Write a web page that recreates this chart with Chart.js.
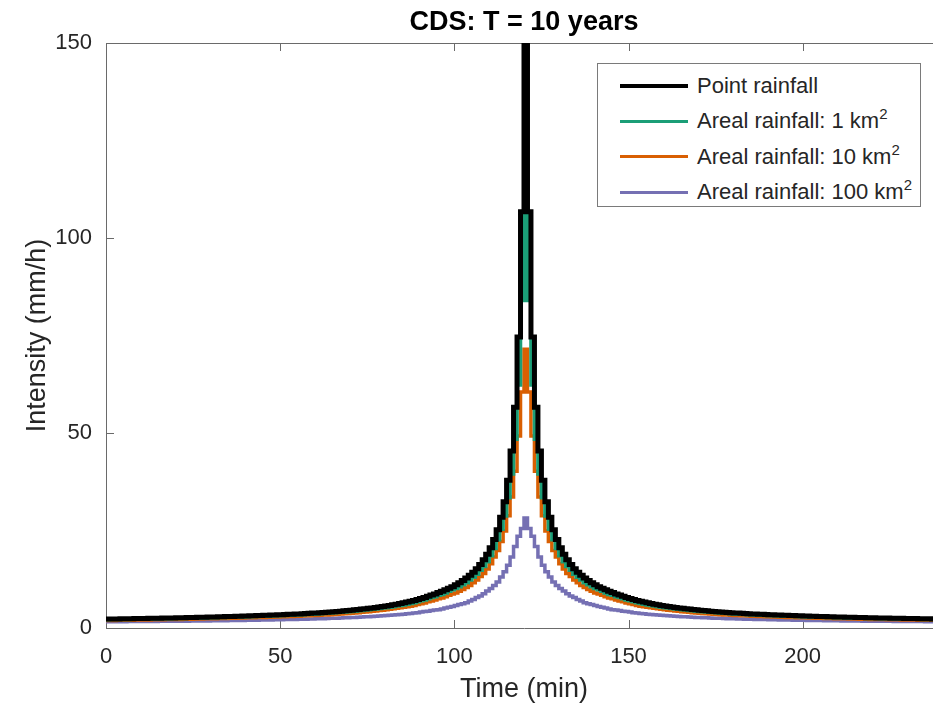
<!DOCTYPE html>
<html>
<head>
<meta charset="utf-8">
<script src="https://cdn.jsdelivr.net/npm/chart.js@4.4.1/dist/chart.umd.min.js"></script>
<style>
  body { margin: 0; background: #fff; overflow: hidden; }
  #wrap { position: relative; width: 950px; height: 707px; }
  #legend {
    position: absolute; left: 597px; top: 63px; width: 324px; height: 144px;
    border: 1px solid #7a7a7a; background: #fff;
    font-family: "Liberation Sans", Arial, sans-serif; font-size: 22px; color: #262626;
    padding-top: 4px; box-sizing: border-box;
  }
  .row { height: 35.5px; display: flex; align-items: center; }
  .swatch { width: 68px; margin-left: 22px; margin-right: 9px; }
  sup { font-size: 15px; vertical-align: 9px; line-height: 0; }
</style>
</head>
<body>
<div id="wrap">
  <canvas id="myChart"></canvas>
  <div id="legend"></div>
</div>
<script>
// step edges in minutes (1-min steps, 0..240)
const minutes = Array.from({ length: 241 }, (_, i) => i);

const seriesNames = ['Point rainfall', 'Areal rainfall: 1 km^2', 'Areal rainfall: 10 km^2', 'Areal rainfall: 100 km^2'];
const seriesColors = ['#000000', '#1b9e77', '#d95f02', '#7570b3'];
const seriesWidths = [5, 3.5, 3.5, 3.5];

const xTicks = [0, 50, 100, 150, 200];
const yTicks = [0, 50, 100, 150];

// intensity (mm/h) of each 1-min step
const pointRain = [
  2.29, 2.31, 2.32, 2.33, 2.35, 2.36, 2.38, 2.39, 2.41, 2.42,
  2.44, 2.45, 2.47, 2.49, 2.5, 2.52, 2.54, 2.56, 2.57, 2.59,
  2.61, 2.63, 2.65, 2.67, 2.69, 2.71, 2.73, 2.76, 2.78, 2.8,
  2.82, 2.85, 2.87, 2.9, 2.92, 2.95, 2.97, 3.0, 3.03, 3.06,
  3.09, 3.12, 3.15, 3.18, 3.21, 3.24, 3.27, 3.31, 3.34, 3.38,
  3.42, 3.46, 3.5, 3.54, 3.58, 3.62, 3.67, 3.72, 3.77, 3.82,
  3.87, 3.93, 3.99, 4.05, 4.11, 4.18, 4.25, 4.32, 4.4, 4.48,
  4.56, 4.65, 4.74, 4.84, 4.94, 5.04, 5.15, 5.27, 5.39, 5.52,
  5.65, 5.8, 5.96, 6.12, 6.28, 6.45, 6.65, 6.85, 7.05, 7.3,
  7.55, 7.85, 8.15, 8.45, 8.75, 9.1, 9.4, 9.8, 10.2, 10.6,
  11.1, 11.6, 12.2, 12.8, 13.5, 14.3, 15.2, 16.3, 17.5, 18.9,
  20.6, 22.7, 25.2, 28.4, 32.4, 37.9, 45.4, 56.6, 74.6, 106.7,
  158,
  106.7, 74.6, 56.6, 45.4, 37.9, 32.4, 28.4, 25.2, 22.7, 20.6,
  18.9, 17.5, 16.3, 15.2, 14.3, 13.5, 12.8, 12.2, 11.6, 11.1,
  10.6, 10.2, 9.8, 9.4, 9.1, 8.75, 8.45, 8.15, 7.85, 7.55,
  7.3, 7.05, 6.85, 6.65, 6.45, 6.28, 6.12, 5.96, 5.8, 5.65,
  5.52, 5.39, 5.27, 5.15, 5.04, 4.94, 4.84, 4.74, 4.65, 4.56,
  4.48, 4.4, 4.32, 4.25, 4.18, 4.11, 4.05, 3.99, 3.93, 3.87,
  3.82, 3.77, 3.72, 3.67, 3.62, 3.58, 3.54, 3.5, 3.46, 3.42,
  3.38, 3.34, 3.31, 3.27, 3.24, 3.21, 3.18, 3.15, 3.12, 3.09,
  3.06, 3.03, 3.0, 2.97, 2.95, 2.92, 2.9, 2.87, 2.85, 2.82,
  2.8, 2.78, 2.76, 2.73, 2.71, 2.69, 2.67, 2.65, 2.63, 2.61,
  2.59, 2.57, 2.56, 2.54, 2.52, 2.5, 2.49, 2.47, 2.45, 2.44,
  2.42, 2.41, 2.39, 2.38, 2.36, 2.35, 2.33, 2.32, 2.31
];

const areal1 = [
  2.13, 2.15, 2.16, 2.17, 2.19, 2.19, 2.21, 2.22, 2.24, 2.25,
  2.27, 2.28, 2.3, 2.32, 2.33, 2.34, 2.36, 2.38, 2.39, 2.41,
  2.43, 2.45, 2.46, 2.48, 2.5, 2.52, 2.54, 2.57, 2.59, 2.6,
  2.62, 2.65, 2.67, 2.7, 2.72, 2.74, 2.76, 2.79, 2.82, 2.85,
  2.87, 2.9, 2.93, 2.96, 2.99, 3.01, 3.04, 3.08, 3.11, 3.14,
  3.18, 3.22, 3.26, 3.29, 3.33, 3.37, 3.41, 3.46, 3.51, 3.55,
  3.6, 3.65, 3.71, 3.77, 3.82, 3.89, 3.95, 4.02, 4.09, 4.17,
  4.24, 4.32, 4.41, 4.5, 4.59, 4.69, 4.79, 4.9, 5.01, 5.13,
  5.2, 5.34, 5.48, 5.63, 5.78, 5.9, 6.1, 6.3, 6.5, 6.7,
  7.0, 7.2, 7.5, 7.8, 8.0, 8.4, 8.6, 9.0, 9.4, 9.8,
  10.1, 10.6, 11.1, 11.6, 12.3, 13.0, 13.8, 14.8, 15.8, 17.0,
  18.5, 20.4, 22.6, 25.3, 28.7, 33.4, 39.5, 48.4, 62.3, 84.0,
  118.5,
  84.0, 62.3, 48.4, 39.5, 33.4, 28.7, 25.3, 22.6, 20.4, 18.5,
  17.0, 15.8, 14.8, 13.8, 13.0, 12.3, 11.6, 11.1, 10.6, 10.1,
  9.8, 9.4, 9.0, 8.6, 8.4, 8.0, 7.8, 7.5, 7.2, 7.0,
  6.7, 6.5, 6.3, 6.1, 5.9, 5.78, 5.63, 5.48, 5.34, 5.2,
  5.13, 5.01, 4.9, 4.79, 4.69, 4.59, 4.5, 4.41, 4.32, 4.24,
  4.17, 4.09, 4.02, 3.95, 3.89, 3.82, 3.77, 3.71, 3.65, 3.6,
  3.55, 3.51, 3.46, 3.41, 3.37, 3.33, 3.29, 3.26, 3.22, 3.18,
  3.14, 3.11, 3.08, 3.04, 3.01, 2.99, 2.96, 2.93, 2.9, 2.87,
  2.85, 2.82, 2.79, 2.76, 2.74, 2.72, 2.7, 2.67, 2.65, 2.62,
  2.6, 2.59, 2.57, 2.54, 2.52, 2.5, 2.48, 2.46, 2.45, 2.43,
  2.41, 2.39, 2.38, 2.36, 2.34, 2.33, 2.32, 2.3, 2.28, 2.27,
  2.25, 2.24, 2.22, 2.21, 2.19, 2.19, 2.17, 2.16, 2.15
];

const areal10 = [
  1.92, 1.94, 1.95, 1.96, 1.97, 1.98, 2.0, 2.01, 2.02, 2.03,
  2.05, 2.06, 2.07, 2.09, 2.1, 2.12, 2.13, 2.15, 2.16, 2.18,
  2.19, 2.21, 2.23, 2.24, 2.26, 2.28, 2.29, 2.32, 2.34, 2.35,
  2.37, 2.39, 2.41, 2.44, 2.45, 2.48, 2.49, 2.52, 2.55, 2.57,
  2.6, 2.62, 2.65, 2.67, 2.7, 2.72, 2.75, 2.78, 2.81, 2.84,
  2.87, 2.91, 2.94, 2.97, 3.01, 3.04, 3.08, 3.12, 3.17, 3.2,
  3.21, 3.26, 3.31, 3.36, 3.41, 3.47, 3.53, 3.59, 3.65, 3.72,
  3.78, 3.86, 3.93, 4.02, 4.1, 4.18, 4.27, 4.37, 4.47, 4.58,
  4.69, 4.81, 4.95, 5.08, 5.21, 5.29, 5.45, 5.6, 5.8, 6.0,
  6.2, 6.4, 6.7, 6.9, 7.2, 7.5, 7.7, 8.0, 8.4, 8.7,
  9.0, 9.4, 9.9, 10.4, 10.9, 11.6, 12.3, 13.2, 14.0, 15.1,
  16.5, 18.2, 19.9, 22.2, 24.9, 28.8, 33.6, 40.2, 49.2, 60.5,
  71.5,
  60.5, 49.2, 40.2, 33.6, 28.8, 24.9, 22.2, 19.9, 18.2, 16.5,
  15.1, 14.0, 13.2, 12.3, 11.6, 10.9, 10.4, 9.9, 9.4, 9.0,
  8.7, 8.4, 8.0, 7.7, 7.5, 7.2, 6.9, 6.7, 6.4, 6.2,
  6.0, 5.8, 5.6, 5.45, 5.29, 5.21, 5.08, 4.95, 4.81, 4.69,
  4.58, 4.47, 4.37, 4.27, 4.18, 4.1, 4.02, 3.93, 3.86, 3.78,
  3.72, 3.65, 3.59, 3.53, 3.47, 3.41, 3.36, 3.31, 3.26, 3.21,
  3.2, 3.17, 3.12, 3.08, 3.04, 3.01, 2.97, 2.94, 2.91, 2.87,
  2.84, 2.81, 2.78, 2.75, 2.72, 2.7, 2.67, 2.65, 2.62, 2.6,
  2.57, 2.55, 2.52, 2.49, 2.48, 2.45, 2.44, 2.41, 2.39, 2.37,
  2.35, 2.34, 2.32, 2.29, 2.28, 2.26, 2.24, 2.23, 2.21, 2.19,
  2.18, 2.16, 2.15, 2.13, 2.12, 2.1, 2.09, 2.07, 2.06, 2.05,
  2.03, 2.02, 2.01, 2.0, 1.98, 1.97, 1.96, 1.95, 1.94
];

const areal100 = [
  1.6, 1.61, 1.62, 1.62, 1.63, 1.63, 1.64, 1.65, 1.65, 1.66,
  1.66, 1.67, 1.68, 1.68, 1.69, 1.7, 1.7, 1.71, 1.72, 1.72,
  1.73, 1.74, 1.75, 1.76, 1.77, 1.78, 1.79, 1.8, 1.81, 1.82,
  1.83, 1.85, 1.86, 1.87, 1.88, 1.9, 1.91, 1.92, 1.94, 1.95,
  1.96, 1.98, 1.99, 2.0, 2.02, 2.03, 2.04, 2.07, 2.09, 2.1,
  2.12, 2.15, 2.17, 2.18, 2.2, 2.23, 2.24, 2.27, 2.3, 2.31,
  2.34, 2.36, 2.39, 2.43, 2.47, 2.49, 2.53, 2.55, 2.6, 2.64,
  2.67, 2.72, 2.75, 2.81, 2.87, 2.9, 2.96, 3.0, 3.07, 3.12,
  3.19, 3.25, 3.34, 3.4, 3.49, 3.55, 3.66, 3.73, 3.84, 3.94,
  4.08, 4.2, 4.32, 4.48, 4.59, 4.7, 4.9, 5.1, 5.3, 5.5,
  5.8, 6.0, 6.2, 6.5, 6.9, 7.3, 7.8, 8.2, 8.8, 9.5,
  10.1, 10.9, 11.8, 13.1, 14.4, 16.1, 18.2, 20.9, 23.5, 25.5,
  28.2,
  25.5, 23.5, 20.9, 18.2, 16.1, 14.4, 13.1, 11.8, 10.9, 10.1,
  9.5, 8.8, 8.2, 7.8, 7.3, 6.9, 6.5, 6.2, 6.0, 5.8,
  5.5, 5.3, 5.1, 4.9, 4.7, 4.59, 4.48, 4.32, 4.2, 4.08,
  3.94, 3.84, 3.73, 3.66, 3.55, 3.49, 3.4, 3.34, 3.25, 3.19,
  3.12, 3.07, 3.0, 2.96, 2.9, 2.87, 2.81, 2.75, 2.72, 2.67,
  2.64, 2.6, 2.55, 2.53, 2.49, 2.47, 2.43, 2.39, 2.36, 2.34,
  2.31, 2.3, 2.27, 2.24, 2.23, 2.2, 2.18, 2.17, 2.15, 2.12,
  2.1, 2.09, 2.07, 2.04, 2.03, 2.02, 2.0, 1.99, 1.98, 1.96,
  1.95, 1.94, 1.92, 1.91, 1.9, 1.88, 1.87, 1.86, 1.85, 1.83,
  1.82, 1.81, 1.8, 1.79, 1.78, 1.77, 1.76, 1.75, 1.74, 1.73,
  1.72, 1.72, 1.71, 1.7, 1.7, 1.69, 1.68, 1.68, 1.67, 1.66,
  1.66, 1.65, 1.65, 1.64, 1.63, 1.63, 1.62, 1.62, 1.61
];

const allSeries = [pointRain, areal1, areal10, areal100];

// each step is held until the next edge, last one closed at 240 min
function stepPoints(vals) {
  var pts = vals.map(function (v, i) { return { x: minutes[i], y: v }; });
  pts.push({ x: minutes[vals.length], y: vals[vals.length - 1] });
  return pts;
}

Chart.defaults.font.family = '"Liberation Sans", Arial, sans-serif';
Chart.defaults.color = '#262626';

// matlab style: ticks pointing inwards, box line on top
const innerTicks = {
  id: 'innerTicks',
  beforeDatasetsDraw(chart) {
    const { ctx, chartArea: a, scales: { x, y } } = chart;
    ctx.save();
    ctx.strokeStyle = '#6a6a6a';
    ctx.lineWidth = 1;
    ctx.beginPath();
    ctx.moveTo(a.left, a.top + 0.5);
    ctx.lineTo(a.right, a.top + 0.5);
    xTicks.forEach(function (v) {
      const px = Math.round(x.getPixelForValue(v)) + 0.5;
      ctx.moveTo(px, a.bottom); ctx.lineTo(px, a.bottom - 8);
      ctx.moveTo(px, a.top); ctx.lineTo(px, a.top + 8);
    });
    yTicks.forEach(function (v) {
      const py = Math.round(y.getPixelForValue(v)) + 0.5;
      ctx.moveTo(a.left, py); ctx.lineTo(a.left + 8, py);
    });
    ctx.stroke();
    ctx.restore();
  }
};

const datasets = allSeries.map(function (vals, k) {
  return {
    label: seriesNames[k],
    data: stepPoints(vals),
    stepped: 'before',
    borderColor: seriesColors[k],
    borderWidth: seriesWidths[k],
    borderJoinStyle: 'miter',
    borderCapStyle: 'butt',
    pointRadius: 0,
    fill: false
  };
});

const myChart = new Chart(document.getElementById('myChart'), {
  type: 'line',
  data: { datasets: datasets },
  plugins: [innerTicks],
  options: {
    responsive: true,
    maintainAspectRatio: false,
    animation: false,
    events: [],
    layout: { padding: { left: 0, right: 8, top: 0, bottom: 0 } },
    plugins: {
      legend: { display: false },
      tooltip: { enabled: false },
      title: {
        display: true,
        text: 'CDS: T = 10 years',
        fullSize: false,
        color: '#000',
        font: { size: 27, weight: 'bold' },
        padding: { top: 6, bottom: 4.6 }
      }
    },
    scales: {
      x: {
        type: 'linear',
        min: 0,
        max: 240,
        afterBuildTicks: function (s) { s.ticks = xTicks.map(function (v) { return { value: v }; }); },
        afterFit: function (s) { s.height = 79; },
        grid: { display: false },
        border: { display: true, color: '#6a6a6a', width: 1 },
        ticks: { font: { size: 22 }, padding: 8, maxRotation: 0 },
        title: { display: true, text: 'Time (min)', font: { size: 27 }, padding: { top: 0, bottom: 1 } }
      },
      y: {
        type: 'linear',
        min: 0,
        max: 150,
        afterBuildTicks: function (s) { s.ticks = yTicks.map(function (v) { return { value: v }; }); },
        afterFit: function (s) { s.width = 106; },
        grid: { display: false },
        border: { display: true, color: '#6a6a6a', width: 1 },
        ticks: { font: { size: 22 }, padding: 6 },
        title: { display: true, text: 'Intensity (mm/h)', font: { size: 27 }, padding: { top: 21, bottom: 0 } }
      }
    }
  }
});

// html legend so the km exponent can be a real superscript
$legend = document.getElementById('legend');
seriesNames.forEach(function (name, k) {
  var row = document.createElement('div');
  row.className = 'row';
  var sw = document.createElement('div');
  sw.className = 'swatch';
  sw.style.borderTop = (k === 0 ? 4 : 3) + 'px solid ' + seriesColors[k];
  var txt = document.createElement('span');
  txt.innerHTML = name.replace('^2', '<sup>2</sup>');
  row.appendChild(sw);
  row.appendChild(txt);
  $legend.appendChild(row);
});
</script>
</body>
</html>
